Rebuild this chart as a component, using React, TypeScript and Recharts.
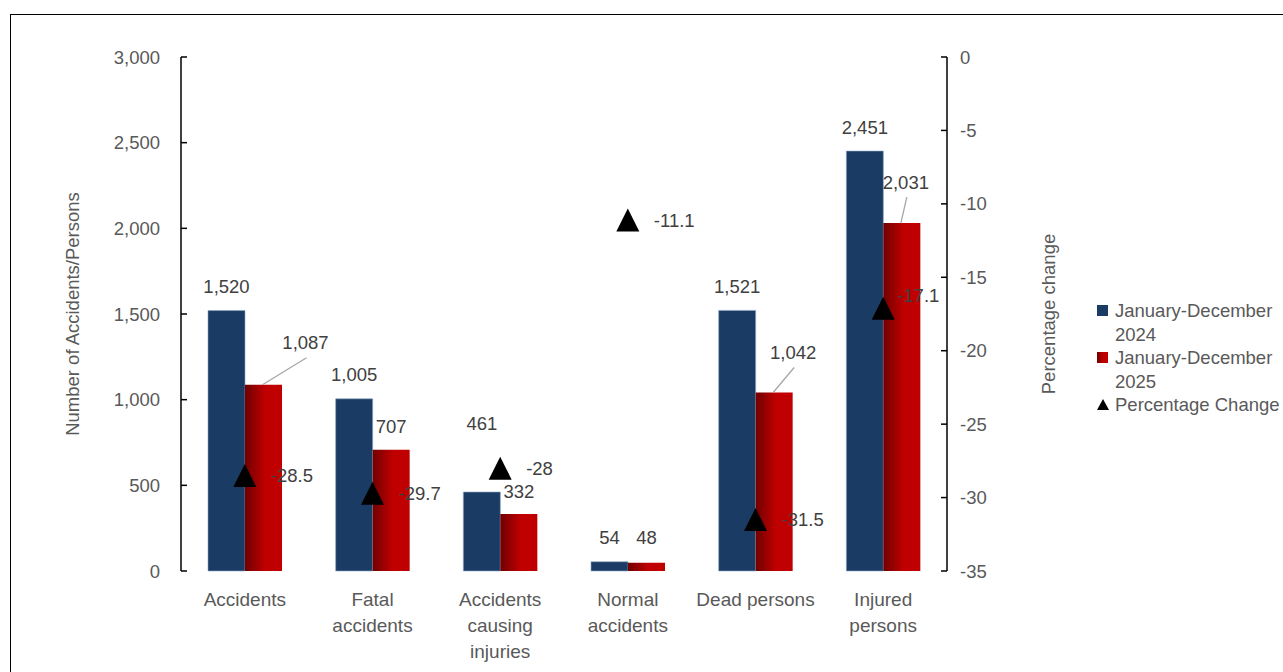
import React from 'react';
import { ComposedChart, Bar, Scatter, XAxis, YAxis, LabelList } from 'recharts';

const categories = [
  'Accidents',
  'Fatal accidents',
  'Accidents causing injuries',
  'Normal accidents',
  'Dead persons',
  'Injured persons',
];
const values2024 = [1520, 1005, 461, 54, 1521, 2451];
const values2025 = [1087, 707, 332, 48, 1042, 2031];
const pctChange = [-28.5, -29.7, -28, -11.1, -31.5, -17.1];
const leftTicks = [0, 500, 1000, 1500, 2000, 2500, 3000];
const rightTicks = [0, -5, -10, -15, -20, -25, -30, -35];
const boundaryTicks = [0, 1, 2, 3, 4, 5, 6];

const data = categories.map((name, i) => ({
  name,
  y2024: values2024[i],
  y2025: values2025[i],
  pct: pctChange[i],
}));

// label placement tweaks (px), per category
const blueLift = [24, 24, 69, 24, 24, 24];
const redDx = [42, 0, 0, 0, 19, 4];
const redDy = [-42, -23, -23, -25, -40, -41];
const redLeader = [true, false, false, false, true, true];
const pctDx = [26, 26, 26, 26, 26, 14];
const pctDy = [0, 0, 0, 0, 0, -13];

const FONT = '"Liberation Sans", Arial, sans-serif';
const FS = 18.5;
const CAT_FS = 19;
const AXIS_GREY = '#595959';
const LABEL_GREY = '#404040';
const BLUE = '#1a3c64';

const fmt = (v: number) => v.toLocaleString('en-US');

// greedy word wrap, like Excel does for the category labels
let ctx: CanvasRenderingContext2D | null = null;
function wrapLabel(text: string, maxWidth: number): string[] {
  if (!ctx) ctx = document.createElement('canvas').getContext('2d');
  ctx!.font = `${CAT_FS}px ${FONT}`;
  const lines: string[] = [];
  let cur = '';
  for (const w of text.split(' ')) {
    const next = cur ? cur + ' ' + w : w;
    if (cur && ctx!.measureText(next).width > maxWidth) {
      lines.push(cur);
      cur = w;
    } else {
      cur = next;
    }
  }
  if (cur) lines.push(cur);
  return lines;
}

const BlueLabel = (props: any) => {
  const { x, y, width, value, index } = props;
  return (
    <text x={x + width / 2} y={y - blueLift[index]} textAnchor="middle" dominantBaseline="central" fill={LABEL_GREY} fontSize={FS}>
      {fmt(value)}
    </text>
  );
};

const RedLabel = (props: any) => {
  const { x, y, width, value, index } = props;
  const cx = x + width / 2;
  const lx = cx + redDx[index];
  const ly = y + redDy[index];
  return (
    <g>
      {redLeader[index] && (
        <line x1={cx - 1} y1={y} x2={lx + 1} y2={ly + 15} stroke="#a6a6a6" strokeWidth={1.3} />
      )}
      <text x={lx} y={ly} textAnchor="middle" dominantBaseline="central" fill={LABEL_GREY} fontSize={FS}>
        {fmt(value)}
      </text>
    </g>
  );
};

const TriangleMark = (props: any) => {
  const { cx, cy, payload } = props;
  const i = categories.indexOf(payload.name);
  const h = 11.5;
  return (
    <g>
      <polygon points={`${cx},${cy - h} ${cx + h},${cy + h} ${cx - h},${cy + h}`} fill="#000" />
      <text x={cx + pctDx[i]} y={cy + pctDy[i]} textAnchor="start" dominantBaseline="central" fill={LABEL_GREY} fontSize={FS}>
        {payload.pct}
      </text>
    </g>
  );
};

const CategoryTick = (props: any) => {
  const { x, y, payload } = props;
  const lines = wrapLabel(String(payload.value), 122);
  return (
    <text x={x} y={y} textAnchor="middle" fill={AXIS_GREY} fontSize={CAT_FS}>
      {lines.map((ln, k) => (
        <tspan key={k} x={x} y={y + 35 + k * 26}>
          {ln}
        </tspan>
      ))}
    </text>
  );
};

const AxisTitle = (props: any) => {
  const { viewBox, posX, text } = props;
  const cy = viewBox.y + viewBox.height / 2;
  return (
    <text x={posX} y={cy} transform={`rotate(-90, ${posX}, ${cy})`} textAnchor="middle" dominantBaseline="central" fill={AXIS_GREY} fontSize={FS}>
      {text}
    </text>
  );
};

const legendItems = [
  { label: 'January-December 2024', kind: 'blue' },
  { label: 'January-December 2025', kind: 'red' },
  { label: 'Percentage Change', kind: 'tri' },
];

function ChartLegend() {
  return (
    <div style={{ position: 'absolute', left: 1097, top: 299, fontSize: FS, color: AXIS_GREY, lineHeight: '23.5px' }}>
      {legendItems.map((it) => (
        <div key={it.label} style={{ display: 'flex', alignItems: 'flex-start' }}>
          <div style={{ width: 18, height: 23.5, position: 'relative', flex: 'none' }}>
            {it.kind === 'tri' ? (
              <svg width={12} height={12} style={{ position: 'absolute', left: 0, top: 6 }}>
                <polygon points="6,0 12,11 0,11" fill="#000" />
              </svg>
            ) : (
              <div
                style={{
                  position: 'absolute',
                  left: 0,
                  top: 6,
                  width: 11,
                  height: 11,
                  background: it.kind === 'blue' ? BLUE : 'linear-gradient(to right, #700000, #c00000 55%, #c00000)',
                }}
              />
            )}
          </div>
          <div style={{ width: 168, whiteSpace: it.kind === 'tri' ? 'nowrap' : 'normal' }}>{it.label}</div>
        </div>
      ))}
    </div>
  );
}

export default function App() {
  return (
    <div style={{ position: 'fixed', left: 0, top: 0, width: 1283, height: 672, overflow: 'hidden', fontFamily: FONT, background: '#fff' }}>
      <div style={{ position: 'absolute', left: 10, top: 14, width: 1400, height: 800, border: '1.5px solid #000' }} />
      <div style={{ position: 'absolute', left: 8, top: 8 }}>
        <ComposedChart
          width={1275}
          height={664}
          data={data}
          margin={{ top: 49, right: 134, bottom: 21, left: 0 }}
          barGap={0}
        >
          <defs>
            <linearGradient id="redGrad" x1="0" y1="0" x2="1" y2="0">
              <stop offset="0" stopColor="#700000" />
              <stop offset="0.55" stopColor="#c00000" />
              <stop offset="1" stopColor="#c00000" />
            </linearGradient>
          </defs>
          <XAxis
            xAxisId="grid"
            type="number"
            domain={[0, 6]}
            ticks={boundaryTicks}
            height={0}
            tick={false}
            tickSize={-6}
            axisLine={{ stroke: '#000', strokeWidth: 1.5 }}
            tickLine={{ stroke: '#000', strokeWidth: 1.5 }}
          />
          <XAxis
            xAxisId="cat"
            dataKey="name"
            height={80}
            axisLine={false}
            tickLine={false}
            tickSize={0}
            tickMargin={0}
            interval={0}
            tick={<CategoryTick />}
          />
          <YAxis
            yAxisId="left"
            domain={[0, 3000]}
            ticks={leftTicks}
            width={173}
            tickSize={-6}
            tickMargin={27}
            axisLine={{ stroke: '#000', strokeWidth: 1.5 }}
            tickLine={{ stroke: '#000', strokeWidth: 1.5 }}
            tick={{ fill: AXIS_GREY, fontSize: FS }}
            tickFormatter={fmt}
            label={<AxisTitle posX={64} text="Number of Accidents/Persons" />}
          />
          <YAxis
            yAxisId="right"
            orientation="right"
            domain={[-35, 0]}
            ticks={rightTicks}
            width={202}
            tickSize={-6}
            tickMargin={19}
            axisLine={{ stroke: '#000', strokeWidth: 1.5 }}
            tickLine={{ stroke: '#000', strokeWidth: 1.5 }}
            tick={{ fill: AXIS_GREY, fontSize: FS }}
            label={<AxisTitle posX={1040} text="Percentage change" />}
          />
          <Bar xAxisId="cat" yAxisId="left" dataKey="y2024" fill={BLUE} stroke="#8da6c4" strokeWidth={0.6} barSize={37} isAnimationActive={false}>
            <LabelList dataKey="y2024" content={<BlueLabel />} />
          </Bar>
          <Bar xAxisId="cat" yAxisId="left" dataKey="y2025" fill="url(#redGrad)" barSize={37} isAnimationActive={false}>
            <LabelList dataKey="y2025" content={<RedLabel />} />
          </Bar>
          <Scatter xAxisId="cat" yAxisId="right" dataKey="pct" shape={<TriangleMark />} isAnimationActive={false} />
        </ComposedChart>
      </div>
      <ChartLegend />
    </div>
  );
}
